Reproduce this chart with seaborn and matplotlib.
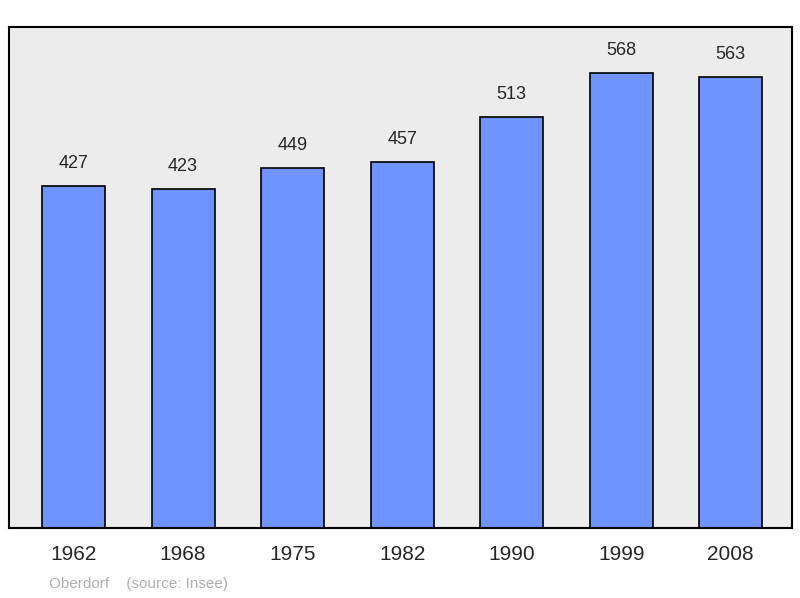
import matplotlib
matplotlib.use("Agg")
import matplotlib.pyplot as plt
import seaborn as sns
import pandas as pd

years = ["1962", "1968", "1975", "1982", "1990", "1999", "2008"]
population = [427, 423, 449, 457, 513, 568, 563]

sns.set_style("white")
plt.rcParams['font.family'] = ['Liberation Sans', 'DejaVu Sans']

fig = plt.figure(figsize=(8, 5.98), dpi=100)
ax = fig.add_axes([9/800, 1-528/598, 783/800, 501/598])
df = pd.DataFrame({"year": years, "pop": population})
sns.barplot(data=df, x="year", y="pop", color="#7094ff", saturation=1,
            edgecolor="black", linewidth=1.2, width=0.575, ax=ax)
ax.set_facecolor("#ececec")
ax.set_xlim(-0.589, 6.56)
ax.set_ylim(0, 625)
for i, v in enumerate(population):
    ax.annotate(str(v), (i, v), xytext=(0, 10), textcoords="offset points",
                ha="center", va="bottom", fontsize=13)
ax.set_yticks([])
ax.set_xlabel("")
ax.set_ylabel("")
ax.tick_params(axis="x", length=0, labelsize=15, pad=12)
for s in ax.spines.values():
    s.set_color("black")
    s.set_linewidth(1.5)
fig.text(49/800, 1-584/598, "Oberdorf    (source: Insee)", color="#b0b0b0",
         fontsize=11, va="center")
fig.savefig("out.png", dpi=100)
